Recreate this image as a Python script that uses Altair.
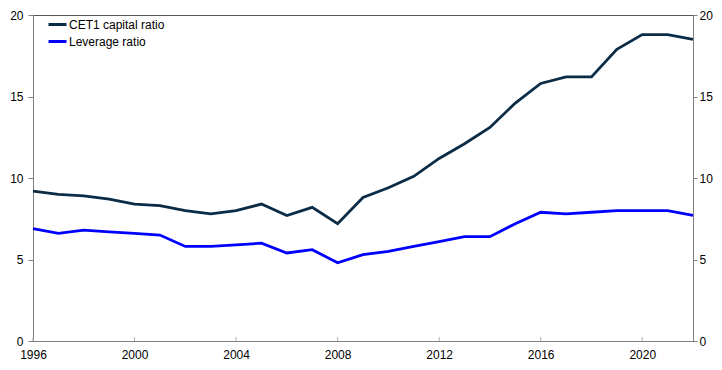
import altair as alt
import pandas as pd

years = list(range(1996, 2023))
cet1 = [9.2, 9.0, 8.9, 8.7, 8.4, 8.3, 8.0, 7.8, 8.0, 8.4, 7.7, 8.2, 7.2, 8.8, 9.4,
        10.1, 11.2, 12.1, 13.1, 14.6, 15.8, 16.2, 16.2, 17.9, 18.8, 18.8, 18.5]
leverage = [6.9, 6.6, 6.8, 6.7, 6.6, 6.5, 5.8, 5.8, 5.9, 6.0, 5.4, 5.6, 4.8, 5.3, 5.5,
            5.8, 6.1, 6.4, 6.4, 7.2, 7.9, 7.8, 7.9, 8.0, 8.0, 8.0, 7.7]
series_names = ["CET1 capital ratio", "Leverage ratio"]
series_colors = ["#0b2c47", "#0000ff"]
x_ticks = [1996, 2000, 2004, 2008, 2012, 2016, 2020]
y_ticks = [0, 5, 10, 15, 20]

rows = []
for y, a, b in zip(years, cet1, leverage):
    rows.append({"year": y, "value": a, "series": series_names[0]})
    rows.append({"year": y, "value": b, "series": series_names[1]})
df = pd.DataFrame(rows)
ticks_df = pd.DataFrame({"year": x_ticks})

W, H = 660, 326
FONT = "Liberation Sans"

xscale = alt.Scale(domain=[1996, 2022], nice=False, zero=False)
yscale = alt.Scale(domain=[0, 20], nice=False)

x_enc = alt.X("year:Q", scale=xscale,
              axis=alt.Axis(values=x_ticks, format="d", title=None, grid=False,
                            tickSize=0, labelPadding=8, domainColor="#808080",
                            labelFlush=False, labelFontSize=12, labelFont=FONT,
                            labelColor="#000"))

lines = alt.Chart(df).mark_line(strokeWidth=2.8).encode(
    x=x_enc,
    y=alt.Y("value:Q", scale=yscale,
            axis=alt.Axis(values=y_ticks, title=None, grid=False, orient="left",
                          tickSize=5, labelPadding=5, domainColor="#808080",
                          tickColor="#808080", labelFontSize=12, labelFont=FONT,
                          labelColor="#000")),
    color=alt.Color("series:N",
                    scale=alt.Scale(domain=series_names, range=series_colors),
                    legend=alt.Legend(title=None, orient="none", legendX=14, legendY=-1,
                                      symbolType="stroke", symbolStrokeWidth=3,
                                      symbolSize=324, labelFontSize=12, labelFont=FONT,
                                      labelColor="#000", labelOffset=1, rowPadding=0)),
)

right_axis = alt.Chart(df).mark_line(opacity=0).encode(
    x=alt.X("year:Q", scale=xscale),
    y=alt.Y("value:Q", scale=yscale,
            axis=alt.Axis(values=y_ticks, title=None, grid=False, orient="right",
                          tickSize=4, labelPadding=2, domainColor="#808080",
                          tickColor="#808080", labelFontSize=12, labelFont=FONT,
                          labelColor="#000")),
    detail="series:N",
)

xticks = alt.Chart(ticks_df).mark_rule(color="#b0b0b0", strokeWidth=1).encode(
    x=alt.X("year:Q", scale=xscale),
    y=alt.value(H),
    y2=alt.value(H - 4),
)

chart = alt.layer(xticks, lines, right_axis).resolve_axis(y="independent").properties(
    width=W, height=H,
    autosize=alt.AutoSizeParams(type="none"),
    padding={"left": 25, "top": 7, "right": 21, "bottom": 25},
).configure_view(stroke="#555555", strokeWidth=1)

chart.save("out.html", embed_options={"renderer": "svg", "actions": False})
